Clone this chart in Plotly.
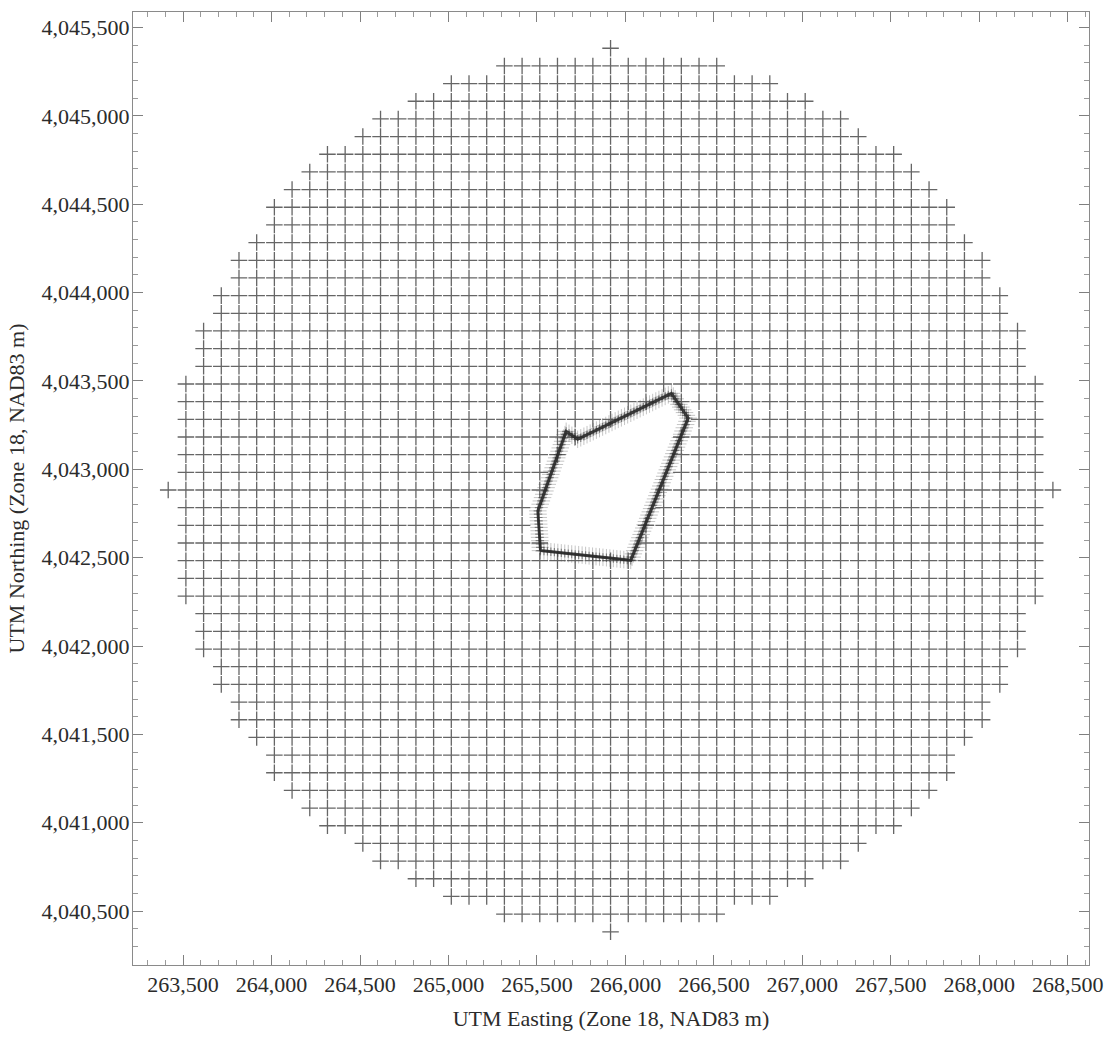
import math
import plotly.graph_objects as go

# ---------------- data ----------------
# Cartesian receptor grid (100 m spacing) centred on the facility
GRID_CENTER_X = 265916.0
GRID_CENTER_Y = 4042883.0
GRID_SPACING_M = 100.0
# number of receptors on each side of the centre column, for row offsets 0..25 (symmetric N/S)
ROW_HALF_COLS = [25, 24, 24, 24, 24, 24, 24, 23, 23, 23, 22, 22, 21, 21,
                 20, 19, 19, 18, 17, 16, 14, 13, 11, 9, 6, 0]

# facility fence line vertices (UTM m)
FENCE_X = [265520, 265505, 265665, 265730, 266260, 266355, 266030]
FENCE_Y = [4042540, 4042765, 4043215, 4043170, 4043430, 4043290, 4042485]
FENCE_SPACING_M = 20.0

X_TICKS = [263500, 264000, 264500, 265000, 265500, 266000, 266500,
           267000, 267500, 268000, 268500]
Y_TICKS = [4040500, 4041000, 4041500, 4042000, 4042500, 4043000,
           4043500, 4044000, 4044500, 4045000, 4045500]
X_TITLE = "UTM Easting (Zone 18, NAD83 m)"
Y_TITLE = "UTM Northing (Zone 18, NAD83 m)"


def inside(px, py, xs, ys):
    n = len(xs)
    c = False
    j = n - 1
    for i in range(n):
        if ((ys[i] > py) != (ys[j] > py)) and \
                (px < (xs[j] - xs[i]) * (py - ys[i]) / (ys[j] - ys[i]) + xs[i]):
            c = not c
        j = i
    return c


# grid receptors
gx, gy = [], []
nrows = len(ROW_HALF_COLS) - 1
for k in range(-nrows, nrows + 1):
    half = ROW_HALF_COLS[abs(k)]
    y = GRID_CENTER_Y + k * GRID_SPACING_M
    for m in range(-half, half + 1):
        x = GRID_CENTER_X + m * GRID_SPACING_M
        if not inside(x, y, FENCE_X, FENCE_Y):
            gx.append(x)
            gy.append(y)

# fence-line receptors
fx, fy = [], []
nv = len(FENCE_X)
for i in range(nv):
    x0, y0 = FENCE_X[i], FENCE_Y[i]
    x1, y1 = FENCE_X[(i + 1) % nv], FENCE_Y[(i + 1) % nv]
    L = math.hypot(x1 - x0, y1 - y0)
    n = max(1, int(math.ceil(L / FENCE_SPACING_M)))
    for j in range(n):
        t = j / n
        fx.append(x0 + t * (x1 - x0))
        fy.append(y0 + t * (y1 - y0))

fig = go.Figure()
fig.add_trace(go.Scatter(
    x=gx, y=gy, mode="markers",
    marker=dict(symbol="cross-thin", size=11.8,
                line=dict(width=1.3, color="rgb(102,102,102)")),
    hoverinfo="skip", showlegend=False))
fig.add_trace(go.Scatter(
    x=fx, y=fy, mode="markers",
    marker=dict(symbol="cross-thin", size=12.5,
                line=dict(width=1, color="rgba(90,90,90,0.35)")),
    hoverinfo="skip", showlegend=False))
fig.add_trace(go.Scatter(
    x=fx, y=fy, mode="markers",
    marker=dict(symbol="cross-thin", size=6,
                line=dict(width=1.2, color="rgba(50,50,50,0.5)")),
    hoverinfo="skip", showlegend=False))
fig.add_trace(go.Scatter(
    x=FENCE_X + [FENCE_X[0]], y=FENCE_Y + [FENCE_Y[0]], mode="lines",
    line=dict(color="rgba(40,40,40,0.85)", width=3),
    hoverinfo="skip", showlegend=False))

tick_font = dict(family="Liberation Serif, Times New Roman, serif", size=22, color="#2b2b2b")
common = dict(
    tickformat=",d", ticks="inside", ticklen=10, tickwidth=1, tickcolor="#808080",
    showline=True, linecolor="#8a8a8a", linewidth=1, mirror="allticks",
    showgrid=False, zeroline=False, tickfont=tick_font,
    minor=dict(tickmode="linear", tick0=0, dtick=100, ticks="inside",
               ticklen=5, tickwidth=1, tickcolor="#9a9a9a", showgrid=False),
)

fig.update_layout(
    width=1114, height=1038,
    margin=dict(l=133, r=20, t=11, b=67),
    paper_bgcolor="white", plot_bgcolor="white",
    xaxis=dict(range=[263217, 268620], tickmode="array", tickvals=X_TICKS,
               title=dict(text=X_TITLE, font=tick_font, standoff=14), **common),
    yaxis=dict(range=[4040195, 4045588], tickmode="array", tickvals=Y_TICKS,
               ticklabelstandoff=-2,
               title=dict(text=Y_TITLE, font=tick_font, standoff=10), **common),
)

fig.write_html("out.html", config={"displayModeBar": False},
               post_script="document.body.style.margin='0';")
